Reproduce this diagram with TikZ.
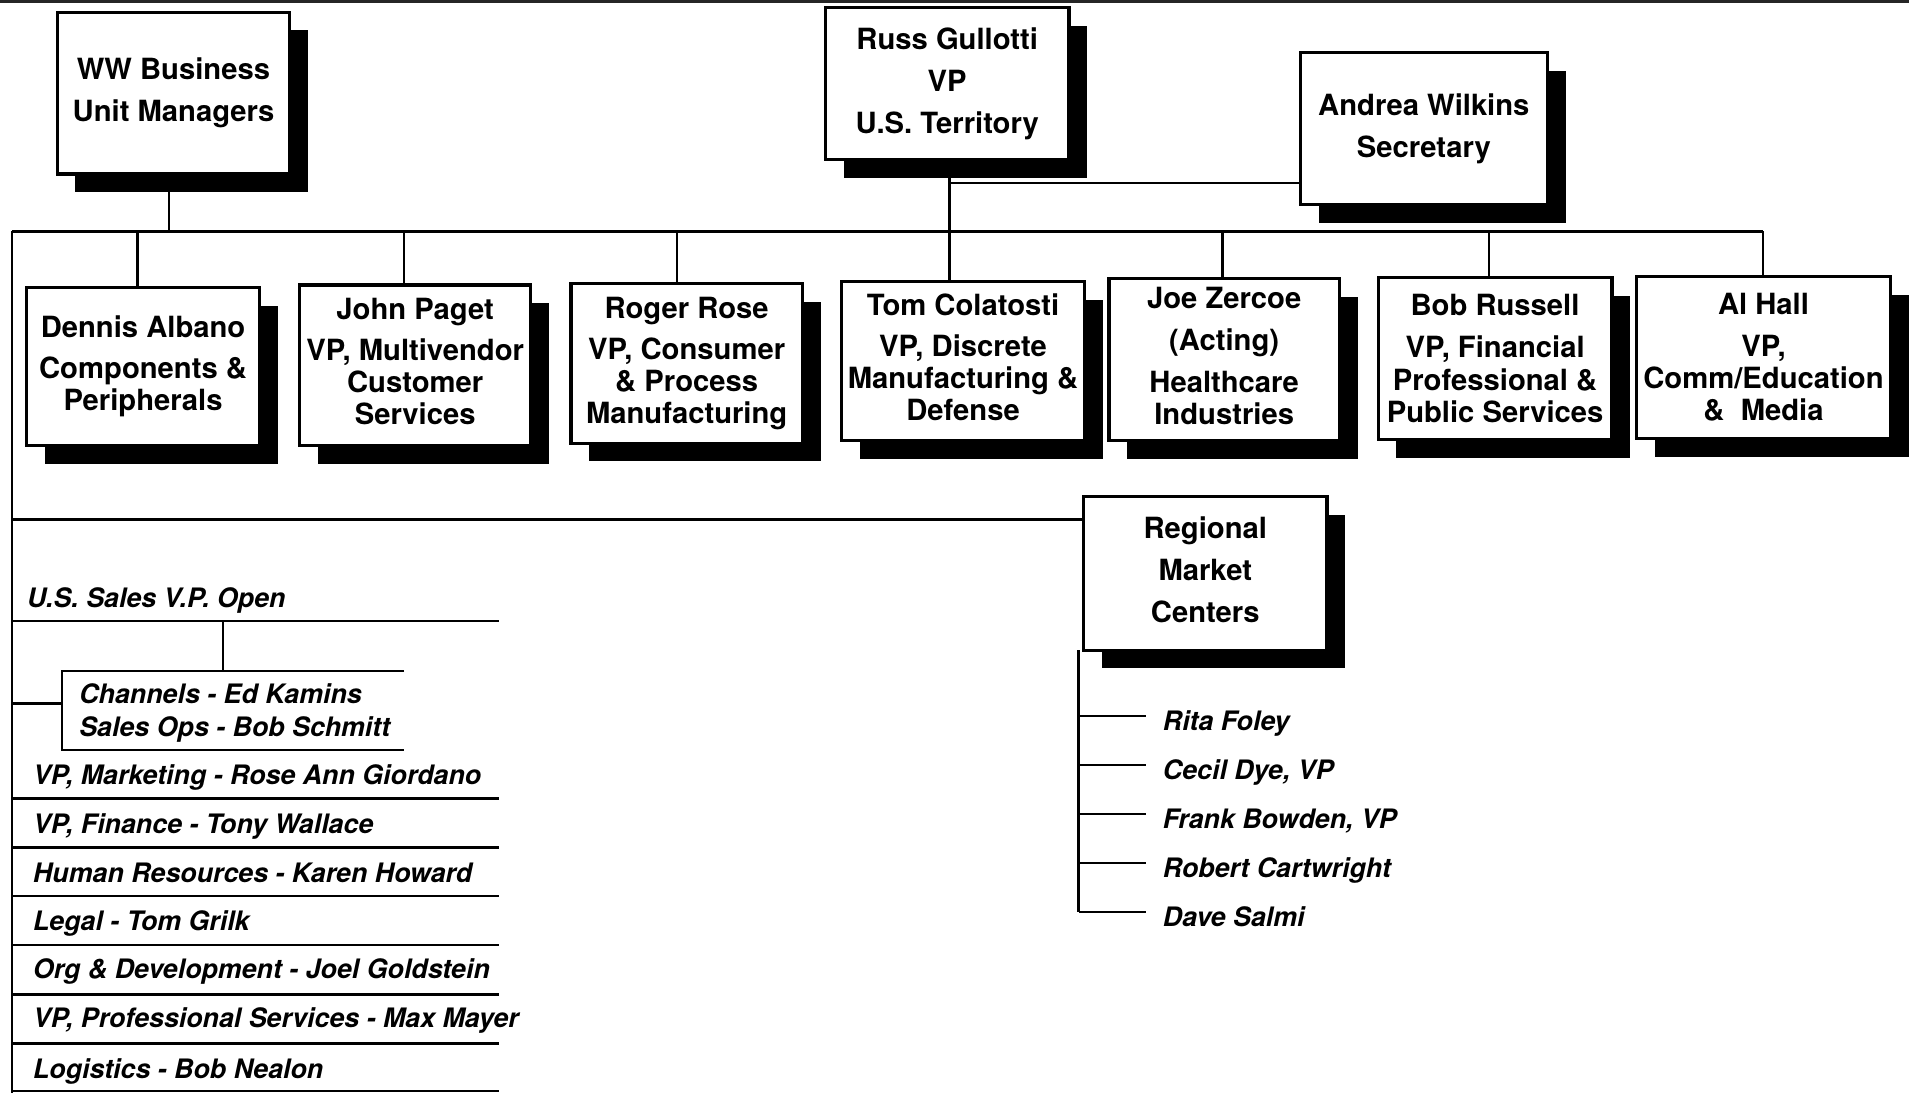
\documentclass[tikz,border=0pt]{standalone}
\usepackage{fontspec}
\setmainfont{TeX Gyre Heros}
\usetikzlibrary{shadows}
\newcommand{\liftup}{\\[-20pt]\mbox{}}
\begin{document}
\begin{tikzpicture}[x=1pt,y=-1pt,
  box/.style={draw, line width=2.7pt, fill=white, inner sep=0pt, align=center,
    font=\bfseries\fontsize{24}{26.5}\selectfont,
    drop shadow={shadow xshift=15pt, shadow yshift=-15pt, fill=black, opacity=1}},
  conn/.style={line width=2pt},
  item/.style={anchor=base west, inner sep=0pt, font=\bfseries\itshape\fontsize{22}{27}\selectfont}]
\useasboundingbox[fill=white] (0,0) rectangle (1568,898);
\draw[line width=2.5pt, black!85] (0,1.2) -- (1568,1.2);

% coordinates of the bus system
\coordinate (busL) at (10,190);
\coordinate (busR) at (1448,190);
\coordinate (lvB) at (10,898);
\coordinate (d1) at (113,190);
\coordinate (d2) at (332,190);
\coordinate (d3) at (556,190);
\coordinate (d5) at (1004,190);
\coordinate (d6) at (1223,190);
\coordinate (d7) at (1448,190);

% top boxes
\node[box, minimum width=191, minimum height=133] (ww) at (142.5,76.5) {WW Business\\[8pt]Unit Managers};
\node[box, minimum width=200, minimum height=125] (russ) at (778,68.5) {Russ Gullotti\\[8pt]VP\\[8pt]U.S. Territory};
\node[box, minimum width=203, minimum height=125] (andrea) at (1169.5,105.5) {Andrea Wilkins\\[8pt]Secretary};

% second row
\node[box, minimum width=191, minimum height=130] (dennis) at (117.5,301) {Dennis Albano\\[7pt]Components \&\\Peripherals};
\node[box, minimum width=190, minimum height=132] (john) at (341,300) {John Paget\\[7pt]VP, Multivendor\\Customer\\Services\liftup};
\node[box, minimum width=190, minimum height=131] (roger) at (564,298.5) {Roger Rose\\[7pt]VP, Consumer\\\& Process\\Manufacturing};
\node[box, minimum width=200, minimum height=131] (tom) at (791,296.5) {Tom Colatosti\\[7pt]VP, Discrete\\Manufacturing \&\\Defense\liftup};
\node[box, minimum width=189, minimum height=133] (joe) at (1005.5,295.5) {Joe Zercoe\\[8pt](Acting)\\[8pt]Healthcare\\Industries\liftup};
\node[box, minimum width=192, minimum height=133] (bob) at (1228,294.5) {Bob Russell\\[8pt]VP, Financial\\Professional \&\\Public Services};
\node[box, minimum width=209, minimum height=133] (al) at (1448.5,293.5) {Al Hall\\[8pt]VP,\\Comm/Education\\\&~~Media};

% regional market centers
\node[box, minimum width=200, minimum height=126] (rmc) at (990,471) {Regional\\[8pt]Market\\[8pt]Centers\liftup};

% connectors
\draw[conn] (busL) -- (busR);
\draw[conn] (busL) -- (lvB);
\draw[conn] (ww.south -| 139,0) -- (busL -| 139,0);
\draw[conn] (russ.south -| 780,0) -- (tom.north -| 780,0);
\coordinate (ajoin) at ([yshift=19pt]andrea.south west);
\draw[conn] (ajoin) -- (ajoin -| 780,0);
\draw[conn] (d1) -- (d1 |- dennis.north);
\draw[conn] (d2) -- (d2 |- john.north);
\draw[conn] (d3) -- (d3 |- roger.north);
\draw[conn] (d5) -- (d5 |- joe.north);
\draw[conn] (d6) -- (d6 |- bob.north);
\draw[conn] (d7) -- (d7 |- al.north);
\coordinate (rjoin) at ([yshift=-20pt]rmc.north west);
\draw[conn] (rjoin -| busL) -- (rjoin);

\node[item] (rita) at (955,600) {Rita Foley};
\node[item] (cecil) at (955,640.5) {Cecil Dye, VP};
\node[item] (frank) at (955,680.5) {Frank Bowden, VP};
\node[item] (robert) at (955,721) {Robert Cartwright};
\node[item] (dave) at (955,761) {Dave Salmi};
\coordinate (rvtop) at (886,534);
\foreach \n in {rita,cecil,frank,robert,dave}
  \draw[conn] ([xshift=-14pt,yshift=12pt]\n.base west) -- ([yshift=12pt]\n.base west -| rvtop);
\draw[conn] (rvtop) -- ([yshift=12pt]dave.base west -| rvtop);

% left list
\node[item] (usopen) at (22,499) {U.S. Sales V.P. Open};
\node[item] (channels) at (65,578) {Channels - Ed Kamins};
\node[item] (salesops) at (65,605) {Sales Ops - Bob Schmitt};
\node[item] (mkt) at (27,644.5) {VP, Marketing - Rose Ann Giordano};
\node[item] (fin) at (27,685) {VP, Finance - Tony Wallace};
\node[item] (hr) at (27,724.5) {Human Resources - Karen Howard};
\node[item] (legal) at (27,764.5) {Legal - Tom Grilk};
\node[item] (org) at (27,804) {Org \& Development - Joel Goldstein};
\node[item] (prof) at (27,844) {VP, Professional Services - Max Mayer};
\node[item] (logi) at (27,885.5) {Logistics - Bob Nealon};

\foreach \yy in {510,656,696,736,776,817,857,896}
  \draw[conn] (10,\yy) -- (410,\yy);
\draw[conn] (183,510) -- (183,551);
\draw[conn] (332,551) -- (51,551) -- (51,616) -- (332,616);
\draw[conn] (10,578) -- (51,578);
\end{tikzpicture}
\end{document}
